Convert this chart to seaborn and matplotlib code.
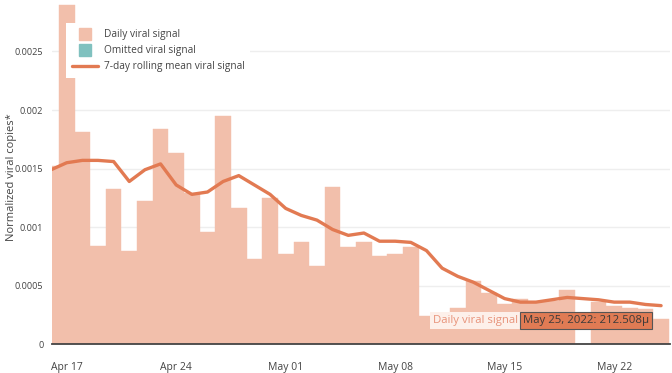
import pandas as pd
import numpy as np
import matplotlib
matplotlib.use("Agg")
import matplotlib.pyplot as plt
import matplotlib.dates as mdates
from matplotlib.lines import Line2D
import seaborn as sns

# daily values, Apr 16 .. May 25 2022 (May 20 has no sample)
dates = pd.date_range("2022-04-16", "2022-05-25", freq="D")
daily_signal = [0.00152, 0.0029, 0.00181, 0.00084, 0.00133, 0.00080, 0.00122, 0.00184,
                0.00163, 0.00129, 0.00096, 0.00195, 0.00116, 0.00073, 0.00125, 0.00077,
                0.00087, 0.00067, 0.00134, 0.00083, 0.00087, 0.00075, 0.00077, 0.00083,
                0.00024, 0.00024, 0.00031, 0.00054, 0.00044, 0.00034, 0.00039, 0.00036,
                0.00037, 0.00046, np.nan, 0.00036, 0.00033, 0.00031, 0.00030, 0.0002125]
rolling_mean = [0.00149, 0.00155, 0.00157, 0.00157, 0.00156, 0.00139, 0.00149, 0.00154,
                0.00136, 0.00128, 0.00130, 0.00139, 0.00144, 0.00136, 0.00128, 0.00116,
                0.00110, 0.00106, 0.00098, 0.00093, 0.00095, 0.00088, 0.00088, 0.00087,
                0.00080, 0.00065, 0.00058, 0.00053, 0.00046, 0.00039, 0.00036, 0.00036,
                0.00038, 0.00040, 0.00039, 0.00038, 0.00036, 0.00036, 0.00034, 0.00033]
tick_dates = ["2022-04-17", "2022-04-24", "2022-05-01", "2022-05-08", "2022-05-15", "2022-05-22"]
tick_labels = ["Apr 17", "Apr 24", "May 01", "May 08", "May 15", "May 22"]
y_ticks = [0, 0.0005, 0.001, 0.0015, 0.002, 0.0025]
y_tick_labels = ["0", "0.0005", "0.001", "0.0015", "0.002", "0.0025"]

bar_color = "#f2bfab"
line_color = "#e27a52"
omit_color = "#80c1bf"

df = pd.DataFrame({"date": dates, "signal": daily_signal, "mean7": rolling_mean})
df["x"] = mdates.date2num(df["date"])
bars = df.dropna(subset=["signal"])

sns.set_style("white")
plt.rcParams["font.family"] = ["Open Sans", "DejaVu Sans"]

fig = plt.figure(figsize=(6.72, 3.73), dpi=100)
W, H = 672, 373
ax_w = 670 - 51.7
ax_h = 344.3 - 4
ax = fig.add_axes([51.7 / W, 1 - 344.3 / H, ax_w / W, ax_h / H])

sns.barplot(data=bars, x="x", y="signal", native_scale=True, width=1, gap=0,
            color=bar_color, saturation=1, edgecolor=bar_color, linewidth=0.3, ax=ax)
sns.lineplot(data=df, x="x", y="mean7", color=line_color, linewidth=2.4, ax=ax)

x0 = mdates.date2num(pd.Timestamp("2022-04-16"))
ax.set_xlim(x0 + 0.04, mdates.date2num(pd.Timestamp("2022-05-25")) + 0.57)
ax.set_ylim(0, 0.002905)

ax.set_xticks(mdates.date2num(pd.to_datetime(tick_dates)))
ax.set_xticklabels(tick_labels)
ax.set_yticks(y_ticks)
ax.set_yticklabels(y_tick_labels)
ax.tick_params(axis="both", length=0, colors="#444444")
ax.tick_params(axis="x", pad=13, labelsize=7.5)
ax.tick_params(axis="y", pad=6, labelsize=6.6)
ax.set_xlabel("")
ax.set_ylabel("Normalized viral copies*", fontsize=8, color="#444444")
ax.yaxis.set_label_coords((17 - 51.7) / ax_w, 0.49)
ax.grid(axis="y", color="#eeeeee", linewidth=1)
ax.set_axisbelow(True)
for s in ["top", "right", "left"]:
    ax.spines[s].set_visible(False)
ax.spines["bottom"].set_color("#444444")
ax.spines["bottom"].set_linewidth(1.3)
ax.spines["bottom"].set_zorder(5)

handles = [
    Line2D([], [], marker="s", linestyle="none", markersize=8.5, color=bar_color),
    Line2D([], [], marker="s", linestyle="none", markersize=8.5, color=omit_color),
    Line2D([], [], color=line_color, linewidth=2.4),
]
leg = ax.legend(handles, ["Daily viral signal", "Omitted viral signal",
                          "7-day rolling mean viral signal"],
                loc="upper left", bbox_to_anchor=((66 - 51.7) / ax_w, 1 - 19 / ax_h),
                frameon=True, fontsize=7.3, handlelength=2.6, handletextpad=0.5,
                labelspacing=0.5, borderpad=0.6, borderaxespad=0)
leg.get_frame().set_facecolor("white")
leg.get_frame().set_edgecolor("none")
leg.get_frame().set_alpha(1)
leg.get_frame().set_boxstyle("square", pad=0)
for t in leg.get_texts():
    t.set_color("#444444")

# hover labels
fig.text(518 / W, 1 - 320.5 / H, "Daily viral signal", ha="right", va="center",
         fontsize=8.2, color="#e8937a",
         bbox=dict(boxstyle="square,pad=0.25", facecolor="#fdf0ea", edgecolor="none"))
fig.text(586 / W, 1 - 320.5 / H, "May 25, 2022: 212.508\u03bc", ha="center", va="center",
         fontsize=8.2, color="#3a3a3a",
         bbox=dict(boxstyle="square,pad=0.3", facecolor="#e07b54", edgecolor="#555555",
                   linewidth=0.8))

fig.savefig("out.png", dpi=100)
